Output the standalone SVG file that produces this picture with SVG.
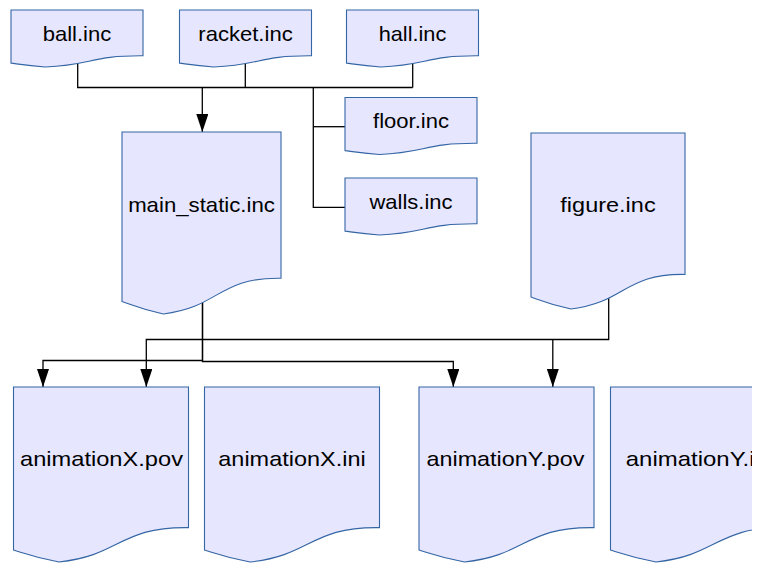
<svg xmlns="http://www.w3.org/2000/svg" width="767" height="576" viewBox="0 0 767 576">
<style>
.doc{fill:#e6e6ff;stroke:#3465a4;stroke-width:1.1}
.lbl{font-family:"Liberation Sans",Arial,sans-serif;font-size:21px;fill:#000;text-anchor:middle}
.con{fill:none;stroke:#000;stroke-width:1.3}
</style>
<defs>
<marker id="arr" markerUnits="userSpaceOnUse" markerWidth="18" markerHeight="12" refX="18" refY="6" orient="auto" viewBox="0 0 18 12">
<path d="M0,0 L18,6 L0,12 Z" fill="#000"/>
</marker>
<path id="small" d="M0,0 H132 V45.81 C79.75,45.44 81.52,54.81 34.35,57 C17.48,55.68 11.30,54.62 0,53.10 Z"/>
<path id="big" d="M0,0 H175 V140.65 C105.74,139.51 108.08,168.28 45.54,175 C23.17,170.96 14.98,167.70 0,163.01 Z"/>
<clipPath id="page"><rect x="0" y="0" width="752" height="576"/></clipPath>
</defs>
<rect width="767" height="576" fill="#fff"/>
<g clip-path="url(#page)">
<g id="connectors">
<path class="con" d="M77.7,60 V87.5 H412.7"/>
<path class="con" d="M245.3,60 V87.5"/>
<path class="con" d="M412.7,60 V87.5"/>
<path class="con" d="M202.3,87.5 V132" marker-end="url(#arr)"/>
<path class="con" d="M313.3,87.5 V207.3 H345"/>
<path class="con" d="M313.3,126.7 H345"/>
<path class="con" d="M202.5,295 V360.5 H43 V387" marker-end="url(#arr)"/>
<path class="con" d="M202.5,295 V361.5 H453.3 V387" marker-end="url(#arr)"/>
<path class="con" d="M608.7,295 V339.5 H146.3 V387" marker-end="url(#arr)"/>
<path class="con" d="M552.8,339.5 V387" marker-end="url(#arr)"/>
</g>
<g id="ball" transform="translate(11,10)">
<use href="#small" class="doc"/>
<text class="lbl" x="66" y="30.5" textLength="68.7" lengthAdjust="spacingAndGlyphs">ball.inc</text>
</g>
<g id="racket" transform="translate(179.5,10)">
<use href="#small" class="doc"/>
<text class="lbl" x="66" y="30.5" textLength="94.4" lengthAdjust="spacingAndGlyphs">racket.inc</text>
</g>
<g id="hall" transform="translate(346.5,10)">
<use href="#small" class="doc"/>
<text class="lbl" x="66" y="30.5" textLength="67.7" lengthAdjust="spacingAndGlyphs">hall.inc</text>
</g>
<g id="floor" transform="translate(345,97.5)">
<use href="#small" class="doc"/>
<text class="lbl" x="66" y="30.3" textLength="76" lengthAdjust="spacingAndGlyphs">floor.inc</text>
</g>
<g id="walls" transform="translate(345,178)">
<use href="#small" class="doc"/>
<text class="lbl" x="66" y="31" textLength="83" lengthAdjust="spacingAndGlyphs">walls.inc</text>
</g>
<g id="main_static" transform="translate(122,132)">
<path class="doc" d="M0,0 H159 V146.27 C96.07,145.09 98.20,175.01 41.37,182 C21.05,177.80 13.61,174.41 0,169.53 Z"/>
<text class="lbl" x="79.5" y="80" textLength="146.7" lengthAdjust="spacingAndGlyphs">main_static.inc</text>
</g>
<g id="figure" transform="translate(531,133)">
<path class="doc" d="M0,0 H154 V141.45 C93.05,140.31 95.11,169.24 40.07,176 C20.39,171.93 13.18,168.66 0,163.94 Z"/>
<text class="lbl" x="77" y="79" textLength="95.3" lengthAdjust="spacingAndGlyphs">figure.inc</text>
</g>
<g id="animationX_pov" transform="translate(13.5,387)">
<use href="#big" class="doc"/>
<text class="lbl" x="88" y="78.5" textLength="163" lengthAdjust="spacingAndGlyphs">animationX.pov</text>
</g>
<g id="animationX_ini" transform="translate(204.5,387)">
<use href="#big" class="doc"/>
<text class="lbl" x="87.5" y="78.5" textLength="147.4" lengthAdjust="spacingAndGlyphs">animationX.ini</text>
</g>
<g id="animationY_pov" transform="translate(419,387)">
<use href="#big" class="doc"/>
<text class="lbl" x="86.5" y="78.5" textLength="158" lengthAdjust="spacingAndGlyphs">animationY.pov</text>
</g>
<g id="animationY_ini" transform="translate(610.5,387)">
<use href="#big" class="doc"/>
<text class="lbl" x="89" y="78.5" textLength="147.4" lengthAdjust="spacingAndGlyphs">animationY.ini</text>
</g>
</g>
</svg>
